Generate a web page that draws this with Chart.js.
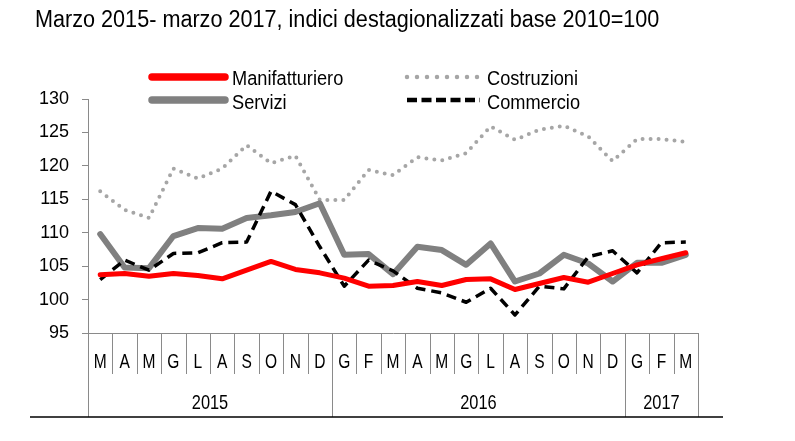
<!DOCTYPE html>
<html>
<head>
<meta charset="utf-8">
<script src="https://cdn.jsdelivr.net/npm/chart.js@4"></script>
<style>
  body { margin: 0; background: #fff; }
</style>
</head>
<body>
<canvas id="myChart" width="795" height="441"></canvas>
<script>
const months = ['M','A','M','G','L','A','S','O','N','D','G','F','M','A','M','G','L','A','S','O','N','D','G','F','M'];
const years = ['2015', '2016', '2017'];
const yearMonths = [10, 12, 3];

const manifatturiero = [103.7, 103.9, 103.5, 103.9, 103.6, 103.1, 104.4, 105.7, 104.5, 104.0, 103.2, 102.0, 102.1,
    102.7, 102.1, 103.0, 103.1, 101.5, 102.4, 103.3, 102.6, 103.9, 105.2, 106.1, 107.0];
const servizi = [109.8, 104.8, 104.7, 109.5, 110.7, 110.6, 112.2, 112.6, 113.1, 114.4, 106.7, 106.8, 103.8,
    107.9, 107.4, 105.2, 108.4, 102.7, 103.9, 106.7, 105.4, 102.7, 105.5, 105.5, 106.7];
const costruzioni = [116.2, 113.4, 112.2, 119.6, 118.1, 119.6, 123.1, 120.4, 121.5, 114.9, 114.9, 119.4, 118.6,
    121.3, 120.8, 121.9, 125.9, 123.9, 125.4, 126.0, 124.4, 120.7, 124.0, 124.0, 123.6];
const commercio = [103.0, 105.9, 104.4, 106.9, 107.0, 108.5, 108.6, 116.2, 114.2, 107.9, 102.0, 105.9, 104.3,
    101.7, 101.0, 99.6, 101.7, 97.7, 102.0, 101.6, 106.4, 107.3, 104.0, 108.5, 108.6];

const title = 'Marzo 2015- marzo 2017, indici destagionalizzati base 2010=100';
const axisColor = '#8a8a8a';
const FONT = '"Liberation Sans", Arial, sans-serif';

function text(ctx, str, x, y, size, sx, align) {
    ctx.save();
    ctx.font = size + 'px ' + FONT;
    ctx.fillStyle = '#000';
    ctx.textAlign = align;
    ctx.textBaseline = 'alphabetic';
    ctx.translate(x, y);
    ctx.scale(sx, 1);
    ctx.fillText(str, 0, 0);
    ctx.restore();
}

function vline(ctx, x, y0, y1) {
    ctx.beginPath();
    ctx.moveTo(Math.round(x) + 0.5, y0);
    ctx.lineTo(Math.round(x) + 0.5, y1);
    ctx.stroke();
}

// legend order as in the picture: two columns
const legendSlots = [
    {ds: 0, x: 152, y: 77, tx: 232, ty: 85},
    {ds: 2, x: 407, y: 77, tx: 487, ty: 85},
    {ds: 1, x: 152, y: 100, tx: 232, ty: 108.5},
    {ds: 3, x: 407, y: 100, tx: 487, ty: 108.5}
];

const extras = {
    id: 'extras',
    afterDraw(chart) {
        const ctx = chart.ctx;
        const x = chart.scales.x;
        const top = chart.chartArea.bottom;
        const bottom = x.bottom;
        const step = x.getPixelForValue(1) - x.getPixelForValue(0);

        text(ctx, title, 35, 27, 23, 0.94, 'left');

        legendSlots.forEach(s => {
            const ds = chart.data.datasets[s.ds];
            ctx.save();
            ctx.strokeStyle = ds.borderColor;
            ctx.lineWidth = ds.legendWidth;
            ctx.lineCap = ds.borderCapStyle || 'butt';
            ctx.setLineDash(ds.legendDash || []);
            ctx.beginPath();
            ctx.moveTo(s.x, s.y);
            ctx.lineTo(s.x + 73, s.y);
            ctx.stroke();
            ctx.restore();
            text(ctx, ds.label, s.tx, s.ty, 20, 0.91, 'left');
        });

        ctx.save();
        ctx.strokeStyle = axisColor;
        ctx.lineWidth = 1;
        months.forEach((m, i) => {
            text(ctx, m, x.getPixelForValue(i), top + 35, 21, 0.74, 'center');
            if (i > 0) vline(ctx, x.getPixelForValue(i) - step / 2, top, top + 41);
        });

        let start = 0;
        const edges = [x.getPixelForValue(0) - step / 2];
        yearMonths.forEach((n, k) => {
            const x0 = x.getPixelForValue(start) - step / 2;
            const x1 = x.getPixelForValue(start + n - 1) + step / 2;
            edges.push(x1);
            text(ctx, years[k], (x0 + x1) / 2, bottom - 8, 21, 0.78, 'center');
            start += n;
        });
        edges.forEach(e => vline(ctx, e, top, bottom));

        ctx.strokeStyle = '#000';
        ctx.lineWidth = 1.5;
        ctx.beginPath();
        ctx.moveTo(x.left - 58, bottom);
        ctx.lineTo(x.right + 25, bottom);
        ctx.stroke();
        ctx.restore();
    }
};

const ctx = document.getElementById('myChart').getContext('2d');
const myChart = new Chart(ctx, {
    type: 'line',
    data: {
        labels: months,
        datasets: [{
            label: 'Manifatturiero',
            data: manifatturiero,
            borderColor: '#ff0000',
            borderWidth: 5,
            legendWidth: 7.5,
            borderCapStyle: 'round',
            order: 0
        }, {
            label: 'Servizi',
            data: servizi,
            borderColor: '#808080',
            borderWidth: 6,
            legendWidth: 7.5,
            borderCapStyle: 'round',
            order: 2
        }, {
            label: 'Costruzioni',
            data: costruzioni,
            borderColor: '#a6a6a6',
            borderWidth: 4,
            legendWidth: 4.5,
            borderDash: [0, 8],
            legendDash: [0, 10],
            borderCapStyle: 'round',
            order: 3
        }, {
            label: 'Commercio',
            data: commercio,
            borderColor: '#000000',
            borderWidth: 3.5,
            legendWidth: 4.5,
            borderDash: [10, 6],
            legendDash: [10, 4.5],
            order: 1
        }]
    },
    options: {
        responsive: false,
        animation: false,
        layout: {
            padding: {top: 99, right: 97, bottom: 24, left: 0}
        },
        elements: {
            point: {radius: 0},
            line: {tension: 0, borderJoinStyle: 'round'}
        },
        plugins: {
            legend: {display: false},
            title: {display: false},
            tooltip: {enabled: false}
        },
        scales: {
            x: {
                offset: true,
                afterFit: scale => { scale.height = 84; },
                border: {color: axisColor},
                grid: {display: false},
                ticks: {display: false}
            },
            y: {
                min: 95,
                max: 130,
                afterFit: scale => { scale.width = 88; },
                border: {color: axisColor},
                grid: {
                    drawOnChartArea: false,
                    color: axisColor,
                    tickLength: 6
                },
                ticks: {
                    stepSize: 5,
                    padding: 13,
                    color: '#000',
                    font: {family: FONT, size: 18}
                }
            }
        }
    },
    plugins: [extras]
});
</script>
</body>
</html>
